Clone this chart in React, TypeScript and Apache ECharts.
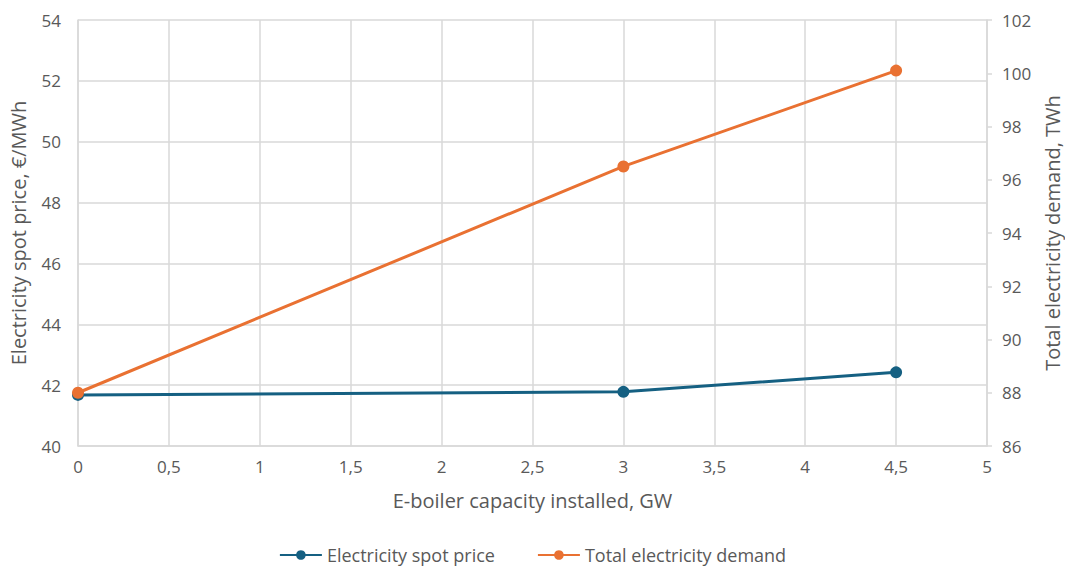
import React, { useEffect, useRef } from "react";
import * as echarts from "echarts";

const capacity = [0, 3, 4.5];
const spotPrice = [41.68, 41.78, 42.42];
const totalDemand = [88.0, 96.5, 100.1];
const seriesNames = ["Electricity spot price", "Total electricity demand"];
const xTitle = "E-boiler capacity installed, GW";
const yLeftTitle = "Electricity spot price, €/MWh";
const yRightTitle = "Total electricity demand, TWh";

const FONT = "'Open Sans', 'Liberation Sans', Arial, sans-serif";
const TXT = "#595959";
const GRID = "#d9d9d9";

export default function App() {
  const ref = useRef<HTMLDivElement>(null);
  useEffect(() => {
    document.body.style.margin = "0";
    const chart = echarts.init(ref.current!, null, { renderer: "svg" });
    const fmt = (v: number) => String(v).replace(".", ",");
    chart.setOption({
      animation: false,
      textStyle: { fontFamily: FONT },
      grid: { left: 78, right: 78, top: 20, bottom: 121, outerBoundsMode: "none", containLabel: false },
      legend: {
        top: 546,
        left: "center",
        padding: 0,
        itemWidth: 42,
        itemHeight: 12,
        itemGap: 42,
        textStyle: { color: TXT, fontSize: 18, lineHeight: 18, fontFamily: FONT },
        data: seriesNames,
      },
      xAxis: {
        type: "value",
        min: 0,
        max: 5,
        interval: 0.5,
        name: xTitle,
        nameLocation: "middle",
        nameGap: 44,
        nameTextStyle: { color: TXT, fontSize: 20, fontFamily: FONT },
        axisLine: { show: true, lineStyle: { color: GRID, width: 1.5 } },
        axisTick: { show: false },
        axisLabel: { color: TXT, fontSize: 17, margin: 12, formatter: fmt },
        splitLine: { show: true, lineStyle: { color: GRID, width: 1.5 } },
      },
      yAxis: [
        {
          type: "value",
          min: 40,
          max: 54,
          interval: 2,
          name: yLeftTitle,
          nameLocation: "middle",
          nameGap: 50,
          nameTextStyle: { color: TXT, fontSize: 20, fontFamily: FONT },
          axisLine: { show: true, lineStyle: { color: GRID, width: 1.5 } },
          axisTick: { show: false },
          axisLabel: { color: TXT, fontSize: 17, margin: 17 },
          splitLine: { show: true, lineStyle: { color: GRID, width: 1.5 } },
        },
        {
          type: "value",
          min: 86,
          max: 102,
          interval: 2,
          position: "right",
          name: yRightTitle,
          nameLocation: "middle",
          nameGap: 54,
          nameTextStyle: { color: TXT, fontSize: 20, fontFamily: FONT },
          axisLine: { show: true, lineStyle: { color: GRID, width: 1.5 } },
          axisTick: { show: true, inside: false, length: 5, lineStyle: { color: GRID, width: 1.5 } },
          axisLabel: { color: TXT, fontSize: 17, margin: 15 },
          splitLine: { show: false },
        },
      ],
      series: [
        {
          name: seriesNames[0],
          type: "line",
          yAxisIndex: 0,
          data: capacity.map((x, i) => [x, spotPrice[i]]),
          symbol: "circle",
          symbolSize: 12,
          lineStyle: { color: "#156082", width: 3 },
          itemStyle: { color: "#156082" },
          z: 2,
        },
        {
          name: seriesNames[1],
          type: "line",
          yAxisIndex: 1,
          data: capacity.map((x, i) => [x, totalDemand[i]]),
          symbol: "circle",
          symbolSize: 12,
          lineStyle: { color: "#e97132", width: 3 },
          itemStyle: { color: "#e97132" },
          z: 3,
        },
      ],
    });
    return () => chart.dispose();
  }, []);
  return <div ref={ref} style={{ width: 1065, height: 567 }} />;
}
